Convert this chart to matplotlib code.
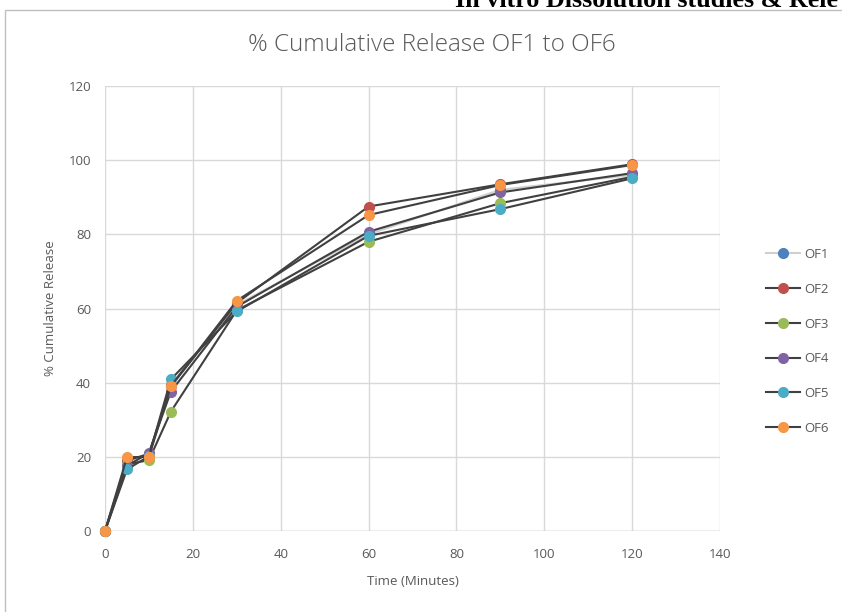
import matplotlib
matplotlib.use("Agg")
import matplotlib.pyplot as plt
from matplotlib.patches import Rectangle

time = [0, 5, 10, 15, 30, 60, 90, 120]
series_names = ["OF1", "OF2", "OF3", "OF4", "OF5", "OF6"]
of1 = [0, 18.5, 20.5, 39.5, 61.0, 80.0, 92.0, 96.0]
of2 = [0, 19.0, 20.8, 39.0, 61.5, 87.5, 93.5, 98.9]
of3 = [0, 18.0, 19.1, 32.2, 59.5, 78.0, 88.4, 95.5]
of4 = [0, 17.5, 21.1, 37.6, 60.5, 80.7, 91.3, 96.5]
of5 = [0, 16.6, 20.2, 40.9, 59.2, 79.6, 86.8, 95.1]
of6 = [0, 19.9, 20.0, 39.1, 62.1, 85.2, 93.3, 98.7]
values = [of1, of2, of3, of4, of5, of6]
colors = ["#4F81BD", "#C0504D", "#9BBB59", "#8064A2", "#4BACC6", "#F79646"]
line_colors = ["#D0D0D0", "#404040", "#404040", "#404040", "#404040", "#404040"]

xticks = [0, 20, 40, 60, 80, 100, 120, 140]
yticks = [0, 20, 40, 60, 80, 100, 120]

W, H = 842, 612
fig = plt.figure(figsize=(W / 100, H / 100), dpi=100)
fig.patch.set_facecolor("white")

# chart frame
fig.patches.append(Rectangle((5 / W, -0.01), 1.0, (H - 10) / H + 0.01,
                             transform=fig.transFigure, fill=False,
                             edgecolor="#BFBFBF", linewidth=1.0))
# header text, cut by the page edge as in the source
fig.text(455 / W, 1 - 7 / H, "In vitro Dissolution studies & Rele",
         ha="left", va="baseline", fontsize=18.8, fontweight="bold",
         family="Liberation Serif", color="black")

ax = fig.add_axes([105 / W, 81 / H, (720 - 105) / W, (531 - 86) / H])
for s in ax.spines.values():
    s.set_visible(False)
ax.set_xlim(0, 140)
ax.set_ylim(0, 120)
ax.set_xticks(xticks)
ax.set_yticks(yticks)
ax.grid(True, color="#D9D9D9", linewidth=1.0)
ax.set_axisbelow(True)
ax.tick_params(length=0, labelsize=9.5, labelcolor="#595959")
ax.tick_params(axis="x", pad=12)
ax.tick_params(axis="y", pad=10)
for lab in ax.get_xticklabels() + ax.get_yticklabels():
    lab.set_family("Open Sans")

ax.axhline(0, color="#BFBFBF", linewidth=1.0, zorder=1)

for name, vals, c, lc in zip(series_names, values, colors, line_colors):
    ax.plot(time, vals, color=lc, linewidth=1.5, marker="o", markersize=7,
            markerfacecolor=c, markeredgecolor=c, label=name, clip_on=False,
            zorder=3)

fig.text(432 / W, 1 - 45 / H, "% Cumulative Release OF1 to OF6", fontsize=17.5,
         color="#595959", family="Open Sans", fontweight="light",
         ha="center", va="center")
ax.set_xlabel("Time (Minutes)", fontsize=9.5, color="#595959", family="Open Sans",
              labelpad=10)
ax.set_ylabel("% Cumulative Release", fontsize=9.5, color="#595959",
              family="Open Sans", labelpad=8)

leg = ax.legend(loc="center left", bbox_to_anchor=(1.055, 0.426), frameon=False,
                labelspacing=1.65, handlelength=2.6, handletextpad=0.3,
                prop={"family": "Open Sans", "size": 9.5})
for t in leg.get_texts():
    t.set_color("#595959")

fig.savefig("out.png", dpi=100, facecolor="white")
